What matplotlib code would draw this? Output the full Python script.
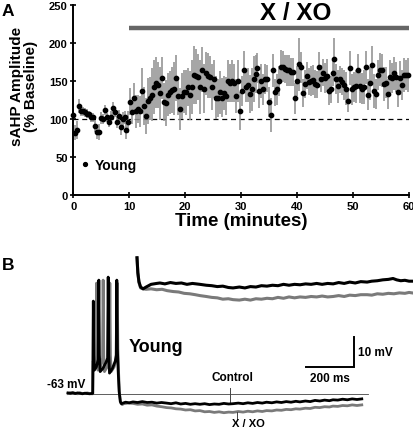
import numpy as np
import matplotlib
matplotlib.use('Agg')
import matplotlib.pyplot as plt

plt.rcParams['font.family'] = ['Liberation Sans', 'DejaVu Sans']
plt.rcParams['font.weight'] = 'bold'

# ---- Panel A data: sAHP amplitude (% baseline) vs time (min) ----
time_min = [0.0, 0.3, 0.72, 1.01, 1.37, 1.79, 2.15, 2.5, 2.86, 3.22, 3.58, 3.82, 4.17, 4.53, 4.89,
            5.25, 5.61, 5.96, 6.32, 6.68, 7.04, 7.39, 7.75, 8.11, 8.47, 8.83, 9.18, 9.42, 9.72,
            10.08, 10.44, 10.79, 11.15, 11.51, 11.87, 12.22, 12.58, 12.94, 13.3, 13.66, 14.01, 14.37,
            14.73, 15.09, 15.44, 15.8, 16.16, 16.52, 16.88, 17.23, 17.59, 17.95, 18.31, 18.66, 19.02,
            19.38, 19.74, 20.1, 20.45, 20.81, 21.17, 21.53, 21.88, 22.24, 22.6, 22.96, 23.32, 23.67,
            24.03, 24.39, 24.75, 25.1, 25.46, 25.82, 26.18, 26.54, 26.89, 27.25, 27.61, 27.97, 28.32,
            28.68, 29.04, 29.4, 29.76, 30.11, 30.47, 30.83, 31.19, 31.54, 31.9, 32.26, 32.62, 32.86,
            33.21, 33.57, 33.93, 34.29, 34.65, 34.94, 35.3, 35.66, 36.02, 36.37, 36.73, 37.09, 37.45,
            37.81, 38.16, 38.52, 38.88, 39.24, 39.59, 39.95, 40.31, 40.67, 41.03, 41.38, 41.74, 42.1,
            42.46, 42.81, 43.17, 43.53, 43.89, 44.25, 44.6, 44.96, 45.32, 45.68, 46.03, 46.39, 46.63,
            46.99, 47.35, 47.7, 48.06, 48.42, 48.78, 49.14, 49.49, 49.85, 50.21, 50.57, 50.92, 51.28,
            51.64, 52.0, 52.36, 52.71, 53.07, 53.43, 53.79, 54.14, 54.5, 54.86, 55.22, 55.58, 55.93,
            56.29, 56.65, 57.01, 57.36, 57.72, 58.08, 58.44, 58.8, 59.15, 59.51, 59.87]
sahp_pct = [105, 82, 86, 117, 111, 110, 109, 107, 106, 102, 102, 91, 83, 83, 101,
            100, 112, 102, 96, 102, 114, 109, 96, 104, 89, 100, 102, 86, 96,
            123, 109, 127, 110, 113, 110, 137, 117, 104, 124, 127, 132, 142,
            148, 145, 134, 154, 122, 121, 132, 135, 138, 140, 154, 130, 113,
            130, 136, 135, 142, 131, 142, 158, 156, 155, 142, 165, 140, 160,
            157, 155, 142, 153, 128, 128, 135, 128, 134, 130, 150, 148, 150,
            148, 130, 150, 111, 137, 165, 142, 145, 133, 139, 153, 159, 167,
            137, 150, 139, 153, 153, 122, 105, 164, 135, 139, 150, 169, 169,
            166, 164, 164, 162, 162, 127, 150, 172, 168, 134, 146, 157, 149,
            150, 151, 146, 145, 168, 153, 161, 154, 157, 137, 139, 161, 179,
            153, 143, 152, 149, 145, 140, 124, 167, 139, 142, 143, 165, 143,
            140, 142, 168, 132, 147, 171, 137, 133, 158, 165, 164, 146, 148,
            133, 155, 154, 160, 155, 136, 154, 145, 158, 158, 158]
sahp_sem = [8, 10, 12, 9, 7, 6, 6, 6, 5, 6, 6, 8, 9, 10, 8, 7, 7, 6, 7, 8, 9, 7, 8, 8, 10, 9, 8, 12, 14,
            18, 15, 20, 22, 18, 20, 30, 25, 24, 30, 28, 35, 35, 33, 30, 35, 28, 25, 30, 28, 28, 30, 35,
            30, 25, 28, 30, 28, 30, 25, 32,
            35, 38, 36, 30, 35, 30, 32, 28, 30, 28, 30, 25, 28, 25, 28, 26, 22, 25, 28, 25, 28, 25, 22,
            28, 25, 20, 25, 20, 22, 25, 28, 30, 25, 20, 22, 22, 20, 20, 18, 20,
            22, 22, 18, 20, 20, 22, 20, 18, 20, 20, 18, 18, 20, 20, 35, 20, 18, 18, 18, 18, 20, 20, 18,
            18, 20, 18, 18, 20, 22, 18, 18, 18, 28, 20, 22, 18, 18, 20, 22, 15,
            22, 20, 20, 22, 20, 22, 20, 22, 22, 20, 22, 25, 22, 20, 20, 22, 22, 22, 20, 20, 22, 20, 22,
            20, 20, 22, 20, 22, 20, 22]
treatment = [10, 60]
treatment_level = 220
baseline_level = 100

# ---- Panel B data: voltage traces (ms, mV) ----
ctrl_t = [0, 10, 20, 30, 40, 50, 60, 70, 80, 90, 100, 103,
          104, 105.5, 107.5, 110, 118, 126, 128.5, 131, 134, 145, 158, 165, 167.5, 170, 173, 185, 197,
          201, 203.5, 206, 209, 213, 218, 223, 229,
          240, 255, 271, 290, 310, 330, 350, 370, 390, 411, 430, 450, 470, 490, 510, 530, 550, 570,
          590, 610, 630, 650, 670, 688, 710, 730, 750, 770, 790, 810, 828, 850, 870, 890, 910, 930,
          950, 967, 990, 1010, 1030, 1050, 1070, 1090, 1105, 1125, 1145, 1165, 1185, 1205, 1225]
ctrl_v = [-62.6, -62.7, -62.5, -62.8, -62.6, -62.7, -62.9, -62.7, -62.8, -62.9, -62.8, -62.8,
          -50, -32, -50, -55, -54, -51.5, -25, -50, -55.5, -54.5, -52.5, -51, -24, -50, -56, -54.5, -52,
          -50, -25, -48, -55, -62, -65.5, -66.2, -66,
          -65.7, -65.9, -65.6, -65.8, -65.5, -65.8, -65.7, -66.0, -65.8, -66.0, -66.2, -65.9, -66.3,
          -66.1, -66.4, -66.2, -66.4, -66.2, -66.5, -66.3, -66.4, -66.1, -66.3, -66.2, -66.0, -66.2,
          -65.9, -66.1, -65.8, -66.0, -65.7, -65.9, -65.6, -65.8, -65.5, -65.7, -65.4, -65.6, -65.3,
          -65.5, -65.1, -65.3, -65.0, -65.2, -64.9, -65.0, -64.7, -64.9, -64.6, -64.8, -64.6]
xo_t = [0, 10, 20, 30, 40, 50, 60, 70, 80, 90, 100, 103,
        105, 110, 116, 119, 121.5, 124.5, 135, 144, 146.5, 149, 152, 163, 172, 174.5, 177, 180, 192,
        202, 205.5, 208, 211, 215, 220, 226, 232,
        250, 271, 290, 310, 330, 350, 370, 390, 411, 430, 450, 470, 490, 510, 530, 550, 570, 590,
        610, 630, 650, 670, 688, 710, 730, 750, 770, 790, 810, 828, 850, 870, 890, 910, 930, 950,
        967, 990, 1010, 1030, 1050, 1070, 1090, 1105, 1125, 1145, 1165, 1185, 1205, 1225]
xo_v = [-62.8, -62.6, -62.8, -62.7, -62.9, -62.6, -62.8, -62.8, -62.6, -62.8, -62.9, -62.9,
        -52, -54, -52, -26, -50, -55, -54, -51, -25, -50, -55.5, -54, -51, -26, -50, -55.5, -54,
        -51.5, -26, -48, -56, -63, -66, -66.5, -66.2,
        -66.0, -66.1, -66.4, -66.3, -66.7, -66.6, -67.0, -67.2, -67.5, -67.6, -67.9, -68.0, -68.3,
        -68.2, -68.6, -68.5, -68.9, -68.8, -69.1, -68.9, -69.2, -69.0, -69.1, -68.8, -69.0, -68.7,
        -68.9, -68.6, -68.8, -68.5, -68.6, -68.3, -68.4, -68.1, -68.2, -67.9, -68.0, -67.7, -67.8,
        -67.4, -67.5, -67.2, -67.3, -67.0, -67.1, -66.8, -66.9, -66.6, -66.8, -66.6]

# magnified AHP (inset)
ins_ctrl_t = [229, 232, 236, 242, 251, 262, 280, 300, 312, 330, 350, 370, 390, 410, 430, 457, 480,
              500, 520, 540, 560, 577, 600, 620, 640, 660, 680, 700, 720, 740, 760, 780, 800, 820,
              840, 860, 880, 900, 920, 940, 960, 980, 1000, 1020, 1040, 1063, 1080, 1100, 1120,
              1140, 1157, 1170, 1185, 1200, 1215, 1226]
ins_ctrl_v = [-59.7, -63, -65, -66.2, -66.6, -66.2, -65.6, -65.4, -65.3, -65.5, -65.2, -65.4, -65.3,
              -65.6, -65.4, -65.6, -65.8, -65.9, -66.1, -66.0, -66.3, -66.4, -66.2, -66.4, -66.1,
              -66.2, -65.9, -66.0, -65.8, -65.9, -65.6, -65.8, -65.6, -65.7, -65.5, -65.6, -65.4,
              -65.6, -65.4, -65.5, -65.2, -65.4, -65.1, -65.3, -65.0, -65.1, -64.9, -64.8, -64.6,
              -64.5, -64.3, -64.6, -64.8, -64.7, -64.9, -64.9]
ins_xo_t = [229, 232, 236, 242, 251, 262, 280, 300, 320, 338, 360, 380, 400, 420, 440, 457, 480,
            500, 520, 540, 560, 577, 600, 620, 640, 660, 680, 700, 720, 740, 760, 780, 800, 820, 840,
            860, 880, 900, 920, 940, 960, 980, 1000, 1020, 1040, 1063, 1080, 1100, 1120, 1140, 1160,
            1180, 1200, 1215, 1226]
ins_xo_v = [-59.7, -63, -65.2, -66.4, -66.6, -66.7, -66.6, -66.8, -66.7, -67.0, -67.2, -67.3, -67.6,
            -67.7, -67.9, -68.1, -68.3, -68.5, -68.6, -68.9, -68.8, -69.0, -69.1, -68.9, -69.1,
            -68.8, -68.9, -68.7, -68.8, -68.5, -68.7, -68.4, -68.6, -68.4, -68.5, -68.3, -68.4,
            -68.2, -68.4, -68.3, -68.1, -68.3, -68.0, -68.1, -67.9, -67.9, -68.0, -67.7, -67.8,
            -67.6, -67.7, -67.5, -67.6, -67.4, -67.5]

rest_mv = -63
rest_span = [0, 1251]

fig = plt.figure(figsize=(4.14, 4.35), dpi=100)

# ================= Panel A =================
ax = fig.add_axes([0.1771, 0.5494, 0.8101, 0.4368])
ax.errorbar(time_min, sahp_pct, yerr=sahp_sem, fmt='none', ecolor='#959595',
            elinewidth=1.2, capsize=0, zorder=2, clip_on=False)
ax.plot(time_min, sahp_pct, 'o', color='black', ms=3.1, zorder=3, clip_on=False, label='Young')
ax.axhline(baseline_level, color='black', lw=0.9, ls=(0, (4, 3)), zorder=1)
ax.plot(treatment, [treatment_level, treatment_level], color='#666666', lw=3.2,
        solid_capstyle='butt', clip_on=False)
ax.text(39.8, 240, 'X / XO', ha='center', va='center', fontsize=17.5, fontweight='bold')

ax.set_xlim(0, 60)
ax.set_ylim(0, 250)
ax.set_xticks(range(0, 61, 10))
ax.set_yticks(range(0, 251, 50))
for s in ['top', 'right']:
    ax.spines[s].set_visible(False)
for s in ['left', 'bottom']:
    ax.spines[s].set_linewidth(1.4)
ax.tick_params(direction='inout', length=4, width=1.2, labelsize=8, pad=2)
for lab in ax.get_xticklabels() + ax.get_yticklabels():
    lab.set_fontweight('bold')
ax.set_xlabel('Time (minutes)', fontsize=13.5, fontweight='bold', labelpad=1)
fig.text(24 / 414, 1 - 86 / 435, 'sAHP Amplitude\n(% Baseline)', rotation=90,
         ha='center', va='center', fontsize=11, fontweight='bold', linespacing=1.0)
ax.legend(loc='lower left', bbox_to_anchor=(0.005, 0.09), frameon=False, handlelength=0.6,
          handletextpad=0.4, fontsize=10, markerscale=0.9, borderaxespad=0)
fig.text(2 / 414, 1 - 11 / 435, 'A', ha='left', va='center', fontsize=12.5, fontweight='bold')

# ================= Panel B =================
bx = fig.add_axes([40 / 414, 0, 374 / 414, 180 / 435])
bx.set_xlim(-116.8, 1442.8)
bx.set_ylim(-76.3, -16.3)
bx.axis('off')
bx.plot(rest_span, [rest_mv, rest_mv], color='#444444', lw=0.6, zorder=1)
bx.plot(xo_t, xo_v, color='#7a7a7a', lw=2.0, zorder=2, solid_joinstyle='round')
bx.plot(ctrl_t, ctrl_v, color='black', lw=2.0, zorder=3, solid_joinstyle='round')

# scale bar: 200 ms, 10 mV
bx.plot([993, 1193, 1193], [-54, -54, -44], color='black', lw=1.4, solid_joinstyle='miter')
bx.text(1209, -49, '10 mV', ha='left', va='center', fontsize=8.5, fontweight='bold')
bx.text(1093, -57.5, '200 ms', ha='center', va='center', fontsize=8.5, fontweight='bold')

bx.text(-8, -59.7, '-63 mV', ha='center', va='center', fontsize=8.5, fontweight='bold')
bx.text(367, -47.3, 'Young', ha='center', va='center', fontsize=13, fontweight='bold')
bx.plot([675, 675], [-60.8, -65.9], color='#444444', lw=0.7)
bx.text(684, -57.4, 'Control', ha='center', va='center', fontsize=8.5, fontweight='bold')
bx.plot([705, 705], [-69.0, -71.3], color='#444444', lw=0.7)
bx.text(751, -72.6, 'X / XO', ha='center', va='center', fontsize=8, fontweight='bold')

fig.text(2 / 414, 1 - 266 / 435, 'B', ha='left', va='center', fontsize=12.5, fontweight='bold')

# inset: magnified AHP
ix = fig.add_axes([130 / 414, 1 - 310 / 435, 284 / 414, 55 / 435])
ix.patch.set_alpha(0)
ix.set_xlim(203.6, 1233)
ix.set_ylim(-71.08, -58.86)
ix.axis('off')
ix.plot(ins_xo_t, ins_xo_v, color='#7a7a7a', lw=2.2, solid_joinstyle='round')
ix.plot(ins_ctrl_t, ins_ctrl_v, color='black', lw=2.2, solid_joinstyle='round')

fig.savefig('out.png', dpi=100)
